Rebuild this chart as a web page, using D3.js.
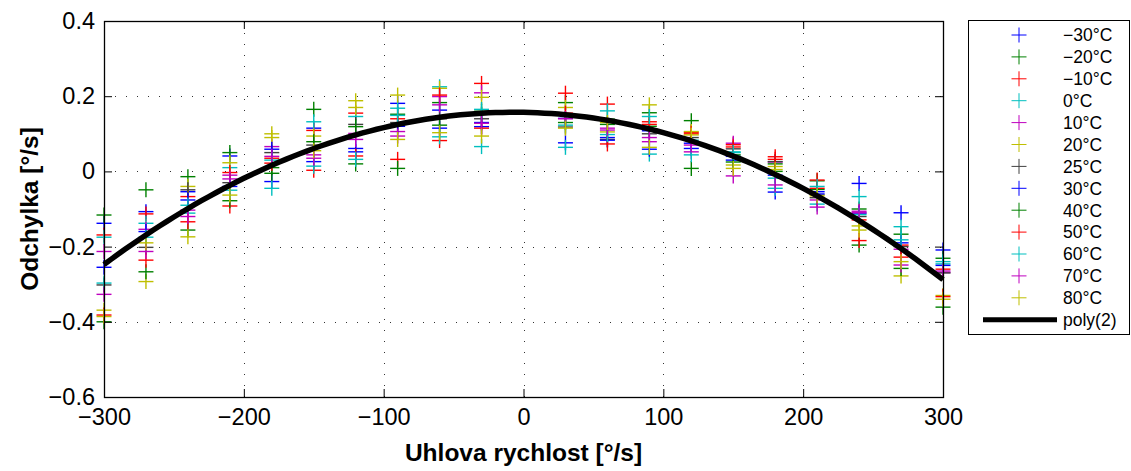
<!DOCTYPE html>
<html><head><meta charset="utf-8">
<script src="https://cdn.jsdelivr.net/npm/d3@7"></script>
<style>
html,body{margin:0;padding:0;background:#fff;}
svg{display:block;font-family:"Liberation Sans",Arial,Helvetica,sans-serif;}
</style></head>
<body>
<svg id="chart" width="1131" height="471"></svg>
<script>
// ---------- data ----------
const xValues = [-300,-270,-240,-210,-180,-150,-120,-90,-60,-30,30,60,90,120,150,180,210,240,270,300];
const seriesNames = ["\u221230\u00B0C","\u221220\u00B0C","\u221210\u00B0C","0\u00B0C","10\u00B0C","20\u00B0C","25\u00B0C","30\u00B0C","40\u00B0C","50\u00B0C","60\u00B0C","70\u00B0C","80\u00B0C"];
const seriesColors = ["#0000ff","#008000","#ff0000","#00bfbf","#bf00bf","#bfbf00","#404040","#0000ff","#008000","#ff0000","#00bfbf","#bf00bf","#bfbf00"];
const tM30 = [-0.138,-0.107,-0.054,0.041,-0.027,0.115,0.061,0.181,0.163,0.119,0.076,0.09,0.108,0.075,0.04,-0.055,-0.054,-0.032,-0.110,-0.209];
const tM20 = [-0.116,-0.049,-0.014,0.05,0.01,0.165,0.02,0.152,0.183,0.152,0.183,0.139,0.156,0.135,0.044,0.02,-0.025,-0.10,-0.167,-0.231];
const tM10 = [-0.169,-0.113,-0.067,-0.092,0.035,0.109,0.155,0.032,0.082,0.234,0.208,0.179,0.132,0.104,0.071,0.039,-0.023,-0.129,-0.196,-0.26];
const t0   = [-0.175,-0.138,-0.111,0.01,-0.045,0.132,0.146,0.168,0.225,0.066,0.064,0.161,0.046,0.083,0.052,-0.045,-0.087,-0.067,-0.147,-0.246];
const t10  = [-0.213,-0.154,-0.103,-0.01,0.066,0.044,0.101,0.106,0.199,0.209,0.15,0.11,0.079,0.052,0.075,0.025,-0.076,-0.106,-0.207,-0.269];
const t20  = [-0.369,-0.293,-0.04,0.023,0.09,0.094,0.188,0.203,0.221,0.197,0.170,0.105,0.177,0.106,0.017,0.013,-0.062,-0.145,-0.278,-0.33];
const t25  = [-0.302,-0.202,-0.049,-0.03,0.05,0.07,0.125,0.13,0.14,0.14,0.118,0.085,0.1,0.09,0.06,0.026,-0.07,-0.12,-0.2,-0.27];
const t30  = [-0.255,-0.160,-0.076,-0.04,0.059,0.026,0.052,0.12,0.115,0.13,0.141,0.083,0.059,0.061,0.03,-0.01,-0.06,-0.111,-0.19,-0.25];
const t40  = [-0.40,-0.267,-0.156,-0.078,-0.005,0.079,0.119,0.008,0.123,0.16,0.13,0.125,0.12,0.008,0.025,0.0,-0.048,-0.196,-0.258,-0.361];
const t50  = [-0.382,-0.236,-0.134,-0.003,0.022,0.003,0.041,0.14,0.203,0.115,0.155,0.073,0.125,0.10,0.065,0.032,-0.045,-0.184,-0.228,-0.333];
const t60  = [-0.297,-0.175,-0.09,-0.05,0.03,0.014,0.032,0.149,0.092,0.165,0.123,0.098,0.146,0.044,0.05,-0.018,-0.04,-0.115,-0.182,-0.24];
const t70  = [-0.327,-0.213,-0.12,-0.02,0.04,0.035,0.085,0.094,0.177,0.128,0.14,0.115,0.09,0.07,-0.012,-0.036,-0.095,-0.11,-0.249,-0.265];
const t80  = [-0.386,-0.19,-0.174,-0.063,0.100,0.055,0.17,0.085,0.103,0.094,0.115,0.13,0.064,0.097,0.008,0.005,-0.065,-0.156,-0.24,-0.34];
const seriesValues = [tM30,tM20,tM10,t0,t10,t20,t25,t30,t40,t50,t60,t70,t80];
// poly(2) fit coefficients: y = a*x^2 + b*x + c
const fitCoef = [-4.72e-6, -6.7e-5, 0.157];
const fitLabel = "poly(2)";
const xTicks = [-300,-200,-100,0,100,200,300];
const yTicks = [-0.6,-0.4,-0.2,0,0.2,0.4];
const xTitle = "Uhlova rychlost [\u00B0/s]";
const yTitle = "Odchylka [\u00B0/s]";

// ---------- layout ----------
const svg = d3.select("#chart");
const L = 104, R = 943, T = 21, B = 397;
const x = d3.scaleLinear().domain([-300,300]).range([L,R]);
const y = d3.scaleLinear().domain([-0.6,0.4]).range([B,T]);
const fmtNum = v => (v<0?"\u2212":"") + d3.format("")(Math.abs(+v.toFixed(2)));

// grid
const grid = svg.append("g").attr("stroke","#333").attr("stroke-width",1).attr("stroke-dasharray","1,10");
xTicks.filter(t=>t>-300&&t<300).forEach(t=>{
  grid.append("line").attr("x1",Math.round(x(t))+0.5).attr("x2",Math.round(x(t))+0.5).attr("y1",B).attr("y2",T);
});
yTicks.filter(t=>t>-0.6&&t<0.4).forEach(t=>{
  grid.append("line").attr("y1",Math.round(y(t))+0.5).attr("y2",Math.round(y(t))+0.5).attr("x1",L).attr("x2",R);
});

// markers
const half = 7.5;
function plus(g, cx, cy, color){
  g.append("line").attr("x1",cx-half).attr("x2",cx+half).attr("y1",cy).attr("y2",cy).attr("stroke",color);
  g.append("line").attr("x1",cx).attr("x2",cx).attr("y1",cy-half).attr("y2",cy+half).attr("stroke",color);
}
const marks = svg.append("g").attr("stroke-width",1.4);
seriesValues.forEach((vals,si)=>{
  const g = marks.append("g");
  vals.forEach((v,i)=>plus(g, x(xValues[i]), y(v), seriesColors[si]));
});

// fit curve
const fitX = d3.range(-300,301,5);
const line = d3.line().x(d=>x(d)).y(d=>y(fitCoef[0]*d*d+fitCoef[1]*d+fitCoef[2]));
svg.append("path").datum(fitX).attr("d",line).attr("fill","none").attr("stroke","#000").attr("stroke-width",5.5);

// axes
const axB = d3.axisBottom(x).tickValues(xTicks).tickSize(-8).tickPadding(11).tickFormat(fmtNum);
const axL = d3.axisLeft(y).tickValues(yTicks).tickSize(-8).tickPadding(9).tickFormat(fmtNum);
const axT = d3.axisTop(x).tickValues(xTicks).tickSize(-8).tickFormat("");
const axR = d3.axisRight(y).tickValues(yTicks).tickSize(-8).tickFormat("");
function style(g){
  g.selectAll("path").attr("stroke","#000").attr("stroke-width",1);
  g.selectAll("line").attr("stroke","#000").attr("stroke-width",1);
  g.selectAll("text").attr("fill","#000").style("font-size","23.5px").style("font-family","'Liberation Sans',Arial,sans-serif");
}
svg.append("g").attr("transform",`translate(0,${B})`).call(axB).call(style).call(g=>g.select(".domain").remove());
svg.append("g").attr("transform",`translate(${L},0)`).call(axL).call(style).call(g=>g.select(".domain").remove());
svg.append("g").attr("transform",`translate(0,${T})`).call(axT).call(style).call(g=>g.select(".domain").remove());
svg.append("g").attr("transform",`translate(${R},0)`).call(axR).call(style).call(g=>g.select(".domain").remove());
svg.append("rect").attr("x",L+0.5).attr("y",T+0.5).attr("width",R-L).attr("height",B-T).attr("fill","none").attr("stroke","#000").attr("stroke-width",1.3);

// titles
svg.append("text").attr("x",(L+R)/2).attr("y",461).attr("text-anchor","middle")
  .style("font-size","24.5px").style("font-weight","bold").text(xTitle);
svg.append("text").attr("transform",`translate(38,${(T+B)/2}) rotate(-90)`).attr("text-anchor","middle")
  .style("font-size","24.5px").style("font-weight","bold").text(yTitle);

// legend
const lg = svg.append("g");
lg.append("rect").attr("x",968.5).attr("y",20.5).attr("width",161).attr("height",314).attr("fill","#fff").attr("stroke","#000").attr("stroke-width",1);
const ly0 = 35, ldy = 21.9;
seriesNames.forEach((n,i)=>{
  const cy = ly0 + i*ldy;
  plus(lg, 1019, cy, seriesColors[i]);
  lg.append("text").attr("x",1063).attr("y",cy).attr("dy","0.36em").style("font-size","17.5px").text(n);
});
const pcy = ly0 + seriesNames.length*ldy;
lg.append("line").attr("x1",983).attr("x2",1057).attr("y1",pcy).attr("y2",pcy).attr("stroke","#000").attr("stroke-width",5);
lg.append("text").attr("x",1063).attr("y",pcy).attr("dy","0.36em").style("font-size","17.5px").text(fitLabel);
</script>
</body></html>
